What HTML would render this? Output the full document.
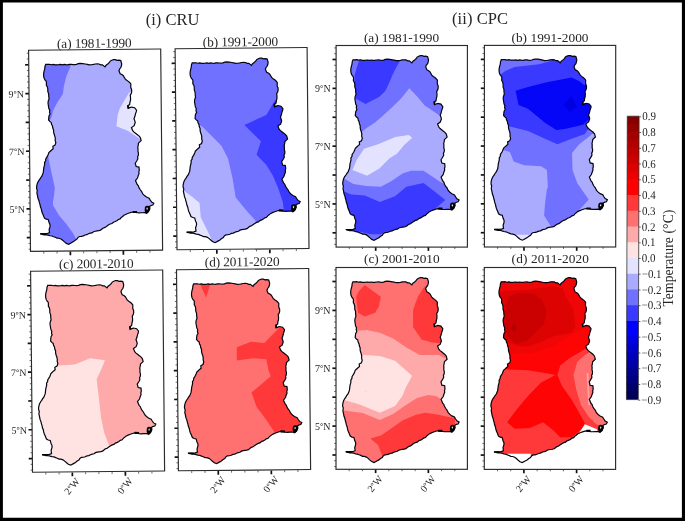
<!DOCTYPE html>
<html><head><meta charset="utf-8"><title>Decadal temperature anomaly - CRU and CPC</title>
<style>html,body{margin:0;padding:0;background:#fff}svg{display:block}text{font-family:"Liberation Serif","Times New Roman",serif;fill:#262626}</style></head><body>
<svg width="685" height="521" viewBox="0 0 685 521">
<rect x="0" y="0" width="685" height="521" fill="#fff"/>
<defs>
<path id="gh" d="M16.9 14.3 L18.7 14.3 L20.6 14.2 L22.5 14.7 L24.4 14.3 L26.2 14.8 L28.0 14.8 L29.8 14.7 L31.6 14.5 L33.4 14.9 L35.2 14.5 L36.9 14.8 L38.7 14.9 L40.5 14.5 L42.2 14.4 L44.0 14.7 L45.7 14.9 L47.5 14.6 L49.2 13.9 L51.2 13.7 L53.7 13.8 L56.1 14.3 L58.2 14.7 L60.2 15.2 L62.4 15.1 L64.3 14.8 L66.2 14.4 L68.1 14.3 L69.9 14.4 L71.5 15.3 L73.2 15.3 L75.8 17.4 L76.9 15.7 L78.5 14.5 L80.0 13.2 L81.0 11.6 L82.6 10.7 L84.3 10.1 L86.1 10.2 L87.8 10.9 L89.7 10.7 L91.5 11.2 L92.4 14.4 L92.1 16.4 L91.5 18.2 L90.3 19.6 L89.6 21.3 L90.8 24.4 L92.5 25.2 L93.9 26.4 L94.8 28.0 L95.7 29.6 L97.2 31.0 L98.8 32.1 L100.1 33.3 L101.3 34.7 L101.2 36.5 L101.2 38.4 L102.0 40.2 L102.1 42.2 L101.7 44.2 L100.6 46.0 L100.9 48.5 L100.8 51.0 L100.2 53.2 L99.9 55.4 L98.0 56.6 L98.5 59.2 L100.1 58.5 L101.7 57.9 L104.8 58.6 L106.7 61.1 L106.4 62.8 L105.7 64.5 L105.3 66.2 L104.8 68.0 L104.1 69.7 L104.8 71.5 L105.3 73.4 L104.2 76.6 L101.5 78.5 L102.7 81.6 L104.0 83.1 L105.5 84.3 L107.0 85.5 L108.8 86.9 L110.2 88.6 L111.0 91.7 L109.6 92.9 L108.3 94.2 L108.1 96.1 L107.6 98.0 L107.8 99.9 L107.7 102.0 L108.2 104.1 L108.1 106.3 L107.3 107.8 L107.6 109.7 L106.8 111.3 L105.9 112.8 L104.9 114.3 L105.8 117.6 L108.6 118.2 L108.9 121.3 L108.4 123.0 L108.6 124.8 L107.9 126.4 L107.0 129.2 L105.0 131.7 L105.8 133.6 L106.6 135.5 L107.8 136.9 L108.4 138.8 L109.5 140.7 L110.9 142.5 L112.1 145.0 L113.8 146.8 L115.8 148.3 L118.4 149.5 L119.5 151.4 L120.8 153.3 L123.0 154.5 L122.0 156.4 L120.3 156.8 L118.8 157.7 L119.0 160.3 L117.7 162.9 L115.6 164.6 L113.9 163.9 L110.7 164.0 L108.5 164.1 L106.3 163.9 L104.1 163.4 L101.9 163.2 L99.7 163.7 L97.6 164.4 L95.3 165.3 L93.2 166.3 L91.9 167.5 L90.5 168.5 L89.4 170.0 L87.6 170.5 L86.1 171.7 L84.5 172.5 L82.7 173.2 L81.2 174.5 L79.4 175.0 L77.6 176.0 L76.0 177.1 L74.4 178.3 L72.6 178.9 L71.2 180.0 L69.8 181.1 L68.0 181.6 L66.3 181.8 L64.5 182.1 L62.8 182.6 L61.3 183.7 L59.5 184.0 L57.8 184.6 L56.1 185.5 L54.3 185.8 L52.6 186.6 L50.8 187.1 L48.8 187.2 L47.2 188.3 L46.2 189.9 L44.5 190.9 L42.8 192.3 L40.8 193.4 L38.0 194.9 L35.7 194.0 L33.9 192.5 L32.1 190.8 L30.4 189.5 L28.3 188.8 L26.5 188.7 L24.8 187.8 L23.1 187.2 L21.5 186.5 L19.6 186.2 L17.7 185.6 L15.8 185.2 L13.7 185.2 L11.8 184.7 L9.9 184.3 L12.3 184.1 L14.7 184.1 L16.9 183.9 L19.1 183.1 L18.7 179.9 L19.7 176.8 L19.6 174.8 L18.7 173.0 L17.9 169.9 L15.9 169.5 L14.2 168.5 L13.0 165.4 L12.1 163.4 L11.5 161.3 L11.1 159.1 L10.3 157.1 L9.9 154.9 L9.3 152.9 L8.8 150.7 L8.0 148.7 L7.6 146.5 L6.9 143.2 L7.3 140.5 L6.6 138.7 L6.7 136.7 L7.1 134.8 L7.7 132.9 L8.6 131.2 L9.8 129.6 L10.8 127.9 L12.0 126.4 L12.7 124.6 L13.4 122.9 L13.7 120.4 L14.0 117.9 L14.5 116.1 L14.9 114.4 L14.8 112.5 L15.9 110.9 L16.0 109.1 L17.0 107.6 L17.9 106.1 L18.6 104.5 L19.2 102.8 L20.6 101.5 L22.0 100.2 L23.5 99.0 L23.2 96.5 L25.4 95.3 L26.2 92.8 L25.6 90.8 L25.7 88.6 L25.3 86.5 L24.6 84.5 L24.1 82.4 L24.1 80.2 L23.3 78.2 L23.0 76.2 L22.1 74.5 L21.8 72.6 L20.4 71.5 L19.2 70.1 L19.4 67.9 L19.7 65.9 L20.8 64.1 L20.2 62.2 L20.5 60.3 L19.6 58.5 L19.3 56.6 L18.8 53.3 L19.0 51.1 L19.9 48.9 L19.6 46.4 L19.5 43.9 L18.7 41.5 L18.7 38.9 L18.3 36.9 L17.3 35.1 L17.4 33.2 L17.3 31.4 L16.0 29.9 L15.1 28.1 L14.7 25.9 L14.7 23.7 L15.0 22.0 L15.4 20.3 L15.9 18.7 L16.1 16.4 Z"/>
<clipPath id="ghc"><use href="#gh"/></clipPath>
<g id="ticks"><path d="M-1.9 2.4H0" stroke="#5a5a5a" stroke-width="0.9"/><path d="M-1.9 8.2H0" stroke="#5a5a5a" stroke-width="0.9"/><path d="M-3.6 14.0H0" stroke="#111" stroke-width="1.7"/><path d="M-1.9 19.8H0" stroke="#5a5a5a" stroke-width="0.9"/><path d="M-1.9 25.6H0" stroke="#5a5a5a" stroke-width="0.9"/><path d="M-1.9 31.3H0" stroke="#5a5a5a" stroke-width="0.9"/><path d="M-1.9 37.1H0" stroke="#5a5a5a" stroke-width="0.9"/><path d="M-3.6 42.9H0" stroke="#111" stroke-width="1.7"/><path d="M-1.9 48.7H0" stroke="#5a5a5a" stroke-width="0.9"/><path d="M-1.9 54.5H0" stroke="#5a5a5a" stroke-width="0.9"/><path d="M-1.9 60.2H0" stroke="#5a5a5a" stroke-width="0.9"/><path d="M-1.9 66.0H0" stroke="#5a5a5a" stroke-width="0.9"/><path d="M-3.6 71.8H0" stroke="#111" stroke-width="1.7"/><path d="M-1.9 77.6H0" stroke="#5a5a5a" stroke-width="0.9"/><path d="M-1.9 83.4H0" stroke="#5a5a5a" stroke-width="0.9"/><path d="M-1.9 89.1H0" stroke="#5a5a5a" stroke-width="0.9"/><path d="M-1.9 94.9H0" stroke="#5a5a5a" stroke-width="0.9"/><path d="M-3.6 100.7H0" stroke="#111" stroke-width="1.7"/><path d="M-1.9 106.5H0" stroke="#5a5a5a" stroke-width="0.9"/><path d="M-1.9 112.3H0" stroke="#5a5a5a" stroke-width="0.9"/><path d="M-1.9 118.0H0" stroke="#5a5a5a" stroke-width="0.9"/><path d="M-1.9 123.8H0" stroke="#5a5a5a" stroke-width="0.9"/><path d="M-3.6 129.6H0" stroke="#111" stroke-width="1.7"/><path d="M-1.9 135.4H0" stroke="#5a5a5a" stroke-width="0.9"/><path d="M-1.9 141.2H0" stroke="#5a5a5a" stroke-width="0.9"/><path d="M-1.9 146.9H0" stroke="#5a5a5a" stroke-width="0.9"/><path d="M-1.9 152.7H0" stroke="#5a5a5a" stroke-width="0.9"/><path d="M-3.6 158.5H0" stroke="#111" stroke-width="1.7"/><path d="M-1.9 164.3H0" stroke="#5a5a5a" stroke-width="0.9"/><path d="M-1.9 170.1H0" stroke="#5a5a5a" stroke-width="0.9"/><path d="M-1.9 175.8H0" stroke="#5a5a5a" stroke-width="0.9"/><path d="M-1.9 181.6H0" stroke="#5a5a5a" stroke-width="0.9"/><path d="M-3.6 187.4H0" stroke="#111" stroke-width="1.7"/><path d="M-1.9 193.2H0" stroke="#5a5a5a" stroke-width="0.9"/><path d="M-1.9 199.0H0" stroke="#5a5a5a" stroke-width="0.9"/><path d="M13.2 201.7v1.9" stroke="#5a5a5a" stroke-width="0.9"/><path d="M26.4 201.7v1.9" stroke="#5a5a5a" stroke-width="0.9"/><path d="M39.6 201.7v3.8" stroke="#111" stroke-width="1.7"/><path d="M52.8 201.7v1.9" stroke="#5a5a5a" stroke-width="0.9"/><path d="M66.0 201.7v1.9" stroke="#5a5a5a" stroke-width="0.9"/><path d="M79.1 201.7v1.9" stroke="#5a5a5a" stroke-width="0.9"/><path d="M92.3 201.7v3.8" stroke="#111" stroke-width="1.7"/><path d="M105.5 201.7v1.9" stroke="#5a5a5a" stroke-width="0.9"/><path d="M118.7 201.7v1.9" stroke="#5a5a5a" stroke-width="0.9"/></g>
</defs>
<g transform="matrix(1.00605 -0.00956 0.00947 0.99698 28.60 50.30)">
<g clip-path="url(#ghc)">
<rect x="0" y="0" width="131.3" height="201.7" fill="#aaaaff"/>
<polygon points="41.9,5.1 41.8,15.8 37.3,26.4 34.7,36.5 33.7,44.1 28.0,52.6 24.1,60.1 21.6,68.6 19.6,71.6 8.6,74.0 6.3,4.8" fill="#7171ff"/>
<polygon points="14.4,100.1 18.5,106.6 20.3,116.6 22.7,128.0 24.7,138.2 24.0,145.4 22.7,153.0 23.0,156.1 28.6,165.6 35.9,174.5 42.1,183.4 45.1,189.0 47.2,198.8 -0.5,198.3 0.5,100.0" fill="#7171ff"/>
<polygon points="104.4,40.8 99.4,43.5 94.2,52.3 89.8,59.7 87.9,66.0 86.5,77.1 97.7,81.6 108.9,89.2 115.8,92.1 116.3,38.9" fill="#e3e3ff"/>
</g>
<use href="#gh" fill="none" stroke="#050510" stroke-width="1.2" stroke-linejoin="miter" stroke-miterlimit="3"/>
<polygon points="114.2,158.1 115.7,157.1 118.4,157.3 119.0,159.8 118.1,162.8 116.4,164.8 114.4,164.4 113.8,161.3" fill="#000"/>
<ellipse cx="116.3" cy="160.0" rx="0.75" ry="1.1" fill="#cfcfe6"/>
<polygon points="102.0,162.1 106.3,162.2 106.3,164.3 102.0,164.2" fill="#000"/>
<polygon points="97.5,56.0 99.2,56.3 99.2,59.1 97.7,59.3" fill="#000"/>
<polygon points="9.6,183.5 15.1,183.7 15.1,185.0 9.6,184.7" fill="#000"/>
<use href="#ticks" y="0.5"/>
<rect x="0" y="0" width="131.3" height="201.7" fill="none" stroke="#2b2b2b" stroke-width="1.15"/>
<text x="-5.0" y="47.2" font-size="10" text-anchor="end">9<tspan font-size="8.2" font-weight="bold" dy="-1.1">°</tspan><tspan dy="1.1">N</tspan></text>
<text x="-5.0" y="105.0" font-size="10" text-anchor="end">7<tspan font-size="8.2" font-weight="bold" dy="-1.1">°</tspan><tspan dy="1.1">N</tspan></text>
<text x="-5.0" y="162.8" font-size="10" text-anchor="end">5<tspan font-size="8.2" font-weight="bold" dy="-1.1">°</tspan><tspan dy="1.1">N</tspan></text>
</g>
<g transform="matrix(1.00529 -0.00955 0.00947 0.99648 175.10 48.80)">
<g clip-path="url(#ghc)">
<rect x="0" y="0" width="131.3" height="201.7" fill="#7171ff"/>
<polygon points="103.9,49.4 98.6,53.1 90.1,67.4 68.2,77.0 84.5,93.6 80.0,107.0 89.6,117.2 96.1,128.3 101.4,141.5 105.7,154.7 106.7,163.5 107.7,170.8 127.6,171.0 128.8,47.6" fill="#3939ff"/>
<polygon points="20.1,74.7 26.8,78.8 45.2,97.7 51.6,110.6 55.8,130.0 58.9,149.9 69.6,163.1 78.2,173.1 80.8,180.6 80.6,200.7 -1.0,199.9 0.2,74.5" fill="#aaaaff"/>
<polygon points="3.5,140.7 7.7,142.8 15.3,148.4 22.9,155.0 23.9,169.3 30.2,182.5 33.4,189.2 35.8,198.2 -1.0,197.9 -0.4,139.7" fill="#e3e3ff"/>
</g>
<use href="#gh" fill="none" stroke="#050510" stroke-width="1.2" stroke-linejoin="miter" stroke-miterlimit="3"/>
<polygon points="114.2,158.1 115.7,157.1 118.4,157.3 119.0,159.8 118.1,162.8 116.4,164.8 114.4,164.4 113.8,161.3" fill="#000"/>
<ellipse cx="116.3" cy="160.0" rx="0.75" ry="1.1" fill="#cfcfe6"/>
<polygon points="102.0,162.1 106.3,162.2 106.3,164.3 102.0,164.2" fill="#000"/>
<polygon points="97.5,56.0 99.2,56.3 99.2,59.1 97.7,59.3" fill="#000"/>
<polygon points="9.6,183.5 15.1,183.7 15.1,185.0 9.6,184.7" fill="#000"/>
<use href="#ticks" y="0.5"/>
<rect x="0" y="0" width="131.3" height="201.7" fill="none" stroke="#2b2b2b" stroke-width="1.15"/>
</g>
<g transform="matrix(1.00605 -0.00956 0.00947 0.99648 30.60 271.30)">
<g clip-path="url(#ghc)">
<rect x="0" y="0" width="131.3" height="201.7" fill="#ffaaaa"/>
<polygon points="18.4,95.2 24.5,95.0 42.9,94.0 58.3,87.7 73.1,89.9 69.0,99.8 64.6,108.9 66.6,127.6 68.6,147.5 71.7,162.9 76.0,174.9 78.2,182.1 78.0,200.1 0.5,199.4 1.5,95.0" fill="#ffe3e3"/>
</g>
<use href="#gh" fill="none" stroke="#050510" stroke-width="1.2" stroke-linejoin="miter" stroke-miterlimit="3"/>
<polygon points="114.2,158.1 115.7,157.1 118.4,157.3 119.0,159.8 118.1,162.8 116.4,164.8 114.4,164.4 113.8,161.3" fill="#000"/>
<ellipse cx="116.3" cy="160.0" rx="0.75" ry="1.1" fill="#cfcfe6"/>
<polygon points="102.0,162.1 106.3,162.2 106.3,164.3 102.0,164.2" fill="#000"/>
<polygon points="97.5,56.0 99.2,56.3 99.2,59.1 97.7,59.3" fill="#000"/>
<polygon points="9.6,183.5 15.1,183.7 15.1,185.0 9.6,184.7" fill="#000"/>
<use href="#ticks" y="0.5"/>
<rect x="0" y="0" width="131.3" height="201.7" fill="none" stroke="#2b2b2b" stroke-width="1.15"/>
<text x="-5.0" y="47.2" font-size="10" text-anchor="end">9<tspan font-size="8.2" font-weight="bold" dy="-1.1">°</tspan><tspan dy="1.1">N</tspan></text>
<text x="-5.0" y="105.0" font-size="10" text-anchor="end">7<tspan font-size="8.2" font-weight="bold" dy="-1.1">°</tspan><tspan dy="1.1">N</tspan></text>
<text x="-5.0" y="162.8" font-size="10" text-anchor="end">5<tspan font-size="8.2" font-weight="bold" dy="-1.1">°</tspan><tspan dy="1.1">N</tspan></text>
<text transform="translate(39.0 216.1) rotate(-50)" font-size="10" text-anchor="middle" x="0" y="3.4">2<tspan font-size="8.2" font-weight="bold" dy="-1.1">°</tspan><tspan dy="1.1">W</tspan></text>
<text transform="translate(91.7 216.1) rotate(-50)" font-size="10" text-anchor="middle" x="0" y="3.4">0<tspan font-size="8.2" font-weight="bold" dy="-1.1">°</tspan><tspan dy="1.1">W</tspan></text>
</g>
<g transform="matrix(1.00681 -0.00957 0.00947 0.99648 176.50 269.80)">
<g clip-path="url(#ghc)">
<rect x="0" y="0" width="131.3" height="201.7" fill="#ff7171"/>
<polygon points="22.0,11.5 34.5,11.6 29.1,28.2" fill="#ff3939"/>
<polygon points="104.3,56.4 99.5,61.2 86.4,74.2 73.3,73.0 59.2,78.3 59.0,91.5 75.3,89.4 88.3,90.7 90.4,101.7 92.6,107.6 73.3,123.9 78.2,138.2 87.8,151.5 96.4,164.8 98.2,171.7 127.0,172.0 128.1,56.6" fill="#ff3939"/>
</g>
<use href="#gh" fill="none" stroke="#050510" stroke-width="1.2" stroke-linejoin="miter" stroke-miterlimit="3"/>
<polygon points="114.2,158.1 115.7,157.1 118.4,157.3 119.0,159.8 118.1,162.8 116.4,164.8 114.4,164.4 113.8,161.3" fill="#000"/>
<ellipse cx="116.3" cy="160.0" rx="0.75" ry="1.1" fill="#cfcfe6"/>
<polygon points="102.0,162.1 106.3,162.2 106.3,164.3 102.0,164.2" fill="#000"/>
<polygon points="97.5,56.0 99.2,56.3 99.2,59.1 97.7,59.3" fill="#000"/>
<polygon points="9.6,183.5 15.1,183.7 15.1,185.0 9.6,184.7" fill="#000"/>
<use href="#ticks" y="0.5"/>
<rect x="0" y="0" width="131.3" height="201.7" fill="none" stroke="#2b2b2b" stroke-width="1.15"/>
<text transform="translate(39.0 216.1) rotate(-50)" font-size="10" text-anchor="middle" x="0" y="3.4">2<tspan font-size="8.2" font-weight="bold" dy="-1.1">°</tspan><tspan dy="1.1">W</tspan></text>
<text transform="translate(91.7 216.1) rotate(-50)" font-size="10" text-anchor="middle" x="0" y="3.4">0<tspan font-size="8.2" font-weight="bold" dy="-1.1">°</tspan><tspan dy="1.1">W</tspan></text>
</g>
<g transform="matrix(1.00000 0.00000 0.00000 0.99950 336.10 45.50)">
<g clip-path="url(#ghc)">
<rect x="0" y="0" width="131.3" height="201.7" fill="#7171ff"/>
<polygon points="22.9,11.5 63.8,11.5 63.8,15.5 60.1,22.0 56.5,29.3 52.8,38.1 49.2,45.4 43.3,51.2 29.4,58.5 20.0,53.4 18.5,41.0 18.5,30.0 20.7,22.0 22.9,15.5" fill="#3939ff"/>
<polygon points="73.2,42.7 81.3,51.2 88.6,60.0 97.3,65.8 103.9,70.2 115.9,73.5 115.9,141.6 104.5,136.7 98.8,132.9 87.4,125.3 75.1,125.3 66.5,128.1 55.1,135.7 44.7,141.4 30.5,140.5 17.2,138.6 9.2,133.8 1.9,130.6 1.9,90.5 20.9,89.5 25.8,86.4 30.2,82.7 38.9,77.0 46.2,70.9 55.0,62.9 65.2,52.7" fill="#aaaaff"/>
<polygon points="72.5,89.6 76.2,92.2 68.1,99.5 60.8,108.4 53.5,112.8 43.3,123.0 30.9,130.3 16.3,124.5 20.7,114.2 28.0,103.3 41.9,98.8 59.4,91.5" fill="#e3e3ff"/>
<polygon points="1.9,143.6 8.6,146.2 15.3,149.0 28.6,150.0 43.7,156.6 58.9,150.9 70.3,141.4 87.4,137.6 98.8,146.2 109.2,154.7 102.6,160.4 96.9,165.1 93.9,170.6 93.9,200.6 1.9,200.6" fill="#3939ff"/>
<polygon points="22.9,186.0 34.3,188.9 44.7,188.9 49.4,186.0 53.9,200.6 18.9,200.6" fill="#7171ff"/>
</g>
<use href="#gh" fill="none" stroke="#050510" stroke-width="1.2" stroke-linejoin="miter" stroke-miterlimit="3"/>
<polygon points="114.2,158.1 115.7,157.1 118.4,157.3 119.0,159.8 118.1,162.8 116.4,164.8 114.4,164.4 113.8,161.3" fill="#000"/>
<ellipse cx="116.3" cy="160.0" rx="0.75" ry="1.1" fill="#cfcfe6"/>
<polygon points="102.0,162.1 106.3,162.2 106.3,164.3 102.0,164.2" fill="#000"/>
<polygon points="97.5,56.0 99.2,56.3 99.2,59.1 97.7,59.3" fill="#000"/>
<polygon points="9.6,183.5 15.1,183.7 15.1,185.0 9.6,184.7" fill="#000"/>
<use href="#ticks"/>
<rect x="0" y="0" width="131.3" height="201.7" fill="none" stroke="#2b2b2b" stroke-width="1.15"/>
<text x="-5.5" y="46.6" font-size="10" text-anchor="end">9<tspan font-size="8.2" font-weight="bold" dy="-1.1">°</tspan><tspan dy="1.1">N</tspan></text>
<text x="-5.5" y="104.4" font-size="10" text-anchor="end">7<tspan font-size="8.2" font-weight="bold" dy="-1.1">°</tspan><tspan dy="1.1">N</tspan></text>
<text x="-5.5" y="162.2" font-size="10" text-anchor="end">5<tspan font-size="8.2" font-weight="bold" dy="-1.1">°</tspan><tspan dy="1.1">N</tspan></text>
</g>
<g transform="matrix(1.00000 0.00000 0.00000 0.99950 484.40 45.40)">
<g clip-path="url(#ghc)">
<rect x="0" y="0" width="131.3" height="201.7" fill="#3939ff"/>
<polygon points="12.6,11.6 68.2,11.6 68.2,15.0 54.9,18.8 30.3,21.7 20.8,25.5 16.0,29.3 12.6,30.6" fill="#7171ff"/>
<polygon points="31.2,45.4 43.6,41.6 62.5,36.9 87.2,32.1 94.8,35.9 99.9,39.7 107.6,38.6 112.6,72.6 104.3,74.1 98.6,79.4 81.5,83.5 72.0,84.6 60.6,77.4 43.6,63.4 34.1,59.6" fill="#0505f8"/>
<polygon points="86.8,50.8 92.6,61.1 85.4,66.4 79.1,59.4" fill="#0000e0"/>
<polygon points="15.6,78.6 24.6,81.0 43.6,85.7 60.6,93.3 73.0,99.0 87.2,93.3 100.5,88.6 104.3,82.9 111.6,79.6 127.6,79.6 127.6,200.7 1.6,200.7 1.6,78.6" fill="#7171ff"/>
<polygon points="107.6,88.6 103.3,92.4 94.8,99.0 87.6,107.7 88.1,124.7 92.9,138.0 104.3,154.1 98.6,160.7 92.9,166.4 89.6,172.7 127.6,172.7 127.6,86.6" fill="#aaaaff"/>
<polygon points="15.6,103.7 19.8,105.0 25.5,106.7 29.3,116.2 39.8,120.0 56.8,120.9 62.5,124.7 63.5,141.8 62.5,143.7 60.6,158.9 59.7,170.2 66.3,180.7 68.6,186.7 68.6,200.7 1.6,200.7 1.6,103.7" fill="#aaaaff"/>
<polygon points="31.6,189.4 46.6,189.4 46.6,200.7 31.6,200.7" fill="#e3e3ff"/>
</g>
<use href="#gh" fill="none" stroke="#050510" stroke-width="1.2" stroke-linejoin="miter" stroke-miterlimit="3"/>
<polygon points="114.2,158.1 115.7,157.1 118.4,157.3 119.0,159.8 118.1,162.8 116.4,164.8 114.4,164.4 113.8,161.3" fill="#000"/>
<ellipse cx="116.3" cy="160.0" rx="0.75" ry="1.1" fill="#cfcfe6"/>
<polygon points="102.0,162.1 106.3,162.2 106.3,164.3 102.0,164.2" fill="#000"/>
<polygon points="97.5,56.0 99.2,56.3 99.2,59.1 97.7,59.3" fill="#000"/>
<polygon points="9.6,183.5 15.1,183.7 15.1,185.0 9.6,184.7" fill="#000"/>
<use href="#ticks"/>
<rect x="0" y="0" width="131.3" height="201.7" fill="none" stroke="#2b2b2b" stroke-width="1.15"/>
</g>
<g transform="matrix(1.00076 0.00000 0.00000 1.00050 336.00 267.50)">
<g clip-path="url(#ghc)">
<rect x="0" y="0" width="131.3" height="201.7" fill="#ff7171"/>
<polygon points="28.7,17.4 44.8,29.2 42.9,38.7 39.1,45.3 28.7,49.1 22.0,45.3 20.1,29.2 23.0,23.5" fill="#ff3939"/>
<polygon points="90.9,17.5 87.4,20.6 81.7,29.2 77.0,42.5 77.0,59.5 85.5,71.9 95.0,74.7 102.6,75.7 113.9,75.5 113.9,17.5" fill="#ff3939"/>
<polygon points="14.0,63.5 21.1,63.3 30.6,62.4 43.8,65.2 57.1,70.9 70.3,79.9 83.6,87.5 102.6,87.5 110.2,91.3 115.9,92.5 115.9,134.4 106.4,132.4 99.9,128.4 91.9,127.4 80.9,130.4 68.4,138.4 57.0,146.4 43.8,152.4 26.8,145.4 7.8,142.9 2.0,141.4 2.0,63.5" fill="#ffaaaa"/>
<polygon points="26.8,87.5 43.8,88.5 59.0,93.2 76.0,108.3 69.4,120.6 66.5,128.1 59.0,138.5 43.8,145.2 23.0,136.6 8.7,132.8 2.0,131.4 2.0,102.4 20.0,98.5 23.0,94.5" fill="#ffe3e3"/>
<polygon points="28.0,123.8 29.5,123.0 31.2,123.6 29.6,124.6" fill="#dcdcff"/>
<polygon points="34.4,170.8 44.8,167.9 53.3,162.2 66.5,152.8 79.8,147.1 89.3,145.2 102.6,147.1 110.2,149.0 118.9,150.4 118.9,192.4 48.0,192.4 45.7,186.9 42.0,177.4" fill="#ff3939"/>
</g>
<use href="#gh" fill="none" stroke="#050510" stroke-width="1.2" stroke-linejoin="miter" stroke-miterlimit="3"/>
<polygon points="114.2,158.1 115.7,157.1 118.4,157.3 119.0,159.8 118.1,162.8 116.4,164.8 114.4,164.4 113.8,161.3" fill="#000"/>
<ellipse cx="116.3" cy="160.0" rx="0.75" ry="1.1" fill="#cfcfe6"/>
<polygon points="102.0,162.1 106.3,162.2 106.3,164.3 102.0,164.2" fill="#000"/>
<polygon points="97.5,56.0 99.2,56.3 99.2,59.1 97.7,59.3" fill="#000"/>
<polygon points="9.6,183.5 15.1,183.7 15.1,185.0 9.6,184.7" fill="#000"/>
<use href="#ticks"/>
<rect x="0" y="0" width="131.3" height="201.7" fill="none" stroke="#2b2b2b" stroke-width="1.15"/>
<text x="-5.5" y="46.6" font-size="10" text-anchor="end">9<tspan font-size="8.2" font-weight="bold" dy="-1.1">°</tspan><tspan dy="1.1">N</tspan></text>
<text x="-5.5" y="104.4" font-size="10" text-anchor="end">7<tspan font-size="8.2" font-weight="bold" dy="-1.1">°</tspan><tspan dy="1.1">N</tspan></text>
<text x="-5.5" y="162.2" font-size="10" text-anchor="end">5<tspan font-size="8.2" font-weight="bold" dy="-1.1">°</tspan><tspan dy="1.1">N</tspan></text>
<text transform="translate(39.0 216.1) rotate(-50)" font-size="10" text-anchor="middle" x="0" y="3.4">2<tspan font-size="8.2" font-weight="bold" dy="-1.1">°</tspan><tspan dy="1.1">W</tspan></text>
<text transform="translate(91.7 216.1) rotate(-50)" font-size="10" text-anchor="middle" x="0" y="3.4">0<tspan font-size="8.2" font-weight="bold" dy="-1.1">°</tspan><tspan dy="1.1">W</tspan></text>
</g>
<g transform="matrix(1.00000 0.00000 0.00000 1.00099 484.30 267.50)">
<g clip-path="url(#ghc)">
<rect x="0" y="0" width="131.3" height="201.7" fill="#ff0404"/>
<polygon points="1.7,0.5 131.7,0.5 131.7,54.4 104.1,58.2 98.3,61.2 86.6,67.0 79.3,72.1 69.1,78.7 47.2,85.2 25.7,86.7 1.7,87.4" fill="#f00606"/>
<polygon points="13.7,25.5 19.7,23.5 43.7,22.5 68.3,18.7 77.8,20.6 81.6,29.2 89.2,42.5 91.1,59.4 87.3,65.1 68.3,68.9 55.7,74.9 43.7,78.9 34.2,78.4 24.7,75.1 15.7,71.4" fill="#de0303"/>
<polygon points="24.7,29.2 34.2,25.4 49.3,26.3 57.9,33.0 62.6,44.3 59.8,55.6 51.2,65.1 43.7,72.7 32.3,76.5 22.8,68.9 19.9,51.8 20.9,38.7" fill="#cb0000"/>
<polygon points="29.4,57.0 32.5,60.4 29.4,63.8 26.3,60.4" fill="#ae0000"/>
<polygon points="15.7,101.4 21.8,101.7 43.7,102.6 60.7,105.4 71.2,107.4 56.9,114.9 45.5,126.3 34.2,139.5 28.5,147.1 22.8,154.6 30.4,161.2 45.5,160.3 58.8,154.6 68.3,162.1 75.9,169.7 87.3,169.7 98.7,160.3 100.6,155.5 94.9,145.2 87.3,131.9 77.8,118.7 73.1,107.4 75.9,97.9 85.4,90.3 100.6,81.7 107.7,78.4 130.7,78.4 130.7,200.3 1.7,200.3 1.7,101.4" fill="#ff3939"/>
<polygon points="105.7,84.4 100.6,87.4 93.0,94.1 89.2,107.4 92.0,122.5 96.8,137.6 104.4,149.0 112.0,156.5 119.7,160.3 128.7,160.3 128.7,84.4" fill="#ff7171"/>
<polygon points="102.4,105.4 104.1,105.4 105.7,137.7 103.9,137.7" fill="#ffa2a2"/>
<polygon points="15.7,186.0 46.5,186.0 46.7,200.3 15.7,200.3" fill="#ffffff"/>
<polygon points="100.6,156.5 112.7,161.6 114.7,168.3 92.7,173.3 93.0,167.8" fill="#ffffff"/>
</g>
<use href="#gh" fill="none" stroke="#050510" stroke-width="1.2" stroke-linejoin="miter" stroke-miterlimit="3"/>
<polygon points="114.2,158.1 115.7,157.1 118.4,157.3 119.0,159.8 118.1,162.8 116.4,164.8 114.4,164.4 113.8,161.3" fill="#000"/>
<ellipse cx="116.3" cy="160.0" rx="0.75" ry="1.1" fill="#cfcfe6"/>
<polygon points="102.0,162.1 106.3,162.2 106.3,164.3 102.0,164.2" fill="#000"/>
<polygon points="97.5,56.0 99.2,56.3 99.2,59.1 97.7,59.3" fill="#000"/>
<polygon points="9.6,183.5 15.1,183.7 15.1,185.0 9.6,184.7" fill="#000"/>
<use href="#ticks"/>
<rect x="0" y="0" width="131.3" height="201.7" fill="none" stroke="#2b2b2b" stroke-width="1.15"/>
<text transform="translate(39.0 216.1) rotate(-50)" font-size="10" text-anchor="middle" x="0" y="3.4">2<tspan font-size="8.2" font-weight="bold" dy="-1.1">°</tspan><tspan dy="1.1">W</tspan></text>
<text transform="translate(91.7 216.1) rotate(-50)" font-size="10" text-anchor="middle" x="0" y="3.4">0<tspan font-size="8.2" font-weight="bold" dy="-1.1">°</tspan><tspan dy="1.1">W</tspan></text>
</g>
<text x="145.8" y="25.4" font-size="16.5" textLength="53.5" lengthAdjust="spacing">(i) CRU</text>
<text x="452.0" y="24.3" font-size="16.5" textLength="56.0" lengthAdjust="spacing">(ii) CPC</text>
<text x="57.0" y="47.6" font-size="13.3" textLength="74.7" lengthAdjust="spacing" transform="rotate(-0.50 94.3 47.6)">(a) 1981-1990</text>
<text x="202.8" y="46.2" font-size="13.3" textLength="75.3" lengthAdjust="spacing" transform="rotate(-0.50 240.5 46.2)">(b) 1991-2000</text>
<text x="58.9" y="268.2" font-size="13.3" textLength="74.7" lengthAdjust="spacing" transform="rotate(-0.50 96.2 268.2)">(c) 2001-2010</text>
<text x="204.8" y="266.2" font-size="13.3" textLength="74.8" lengthAdjust="spacing" transform="rotate(-0.50 242.2 266.2)">(d) 2011-2020</text>
<text x="363.9" y="41.9" font-size="13.3" textLength="75.2" lengthAdjust="spacing">(a) 1981-1990</text>
<text x="511.4" y="41.8" font-size="13.3" textLength="77.1" lengthAdjust="spacing">(b) 1991-2000</text>
<text x="364.0" y="263.4" font-size="13.3" textLength="75.6" lengthAdjust="spacing">(c) 2001-2010</text>
<text x="511.6" y="263.4" font-size="13.3" textLength="77.3" lengthAdjust="spacing">(d) 2011-2020</text>
<g transform="matrix(1 0 -0.003 1 0.35 0)">
<rect x="627.3" y="116.20" width="11.8" height="8.87" fill="rgb(135,0,0)"/>
<rect x="627.3" y="124.07" width="11.8" height="8.87" fill="rgb(149,0,0)"/>
<rect x="627.3" y="131.94" width="11.8" height="8.87" fill="rgb(163,0,0)"/>
<rect x="627.3" y="139.82" width="11.8" height="8.87" fill="rgb(177,0,0)"/>
<rect x="627.3" y="147.69" width="11.8" height="8.87" fill="rgb(191,0,0)"/>
<rect x="627.3" y="155.56" width="11.8" height="8.87" fill="rgb(205,0,0)"/>
<rect x="627.3" y="163.43" width="11.8" height="8.87" fill="rgb(220,0,0)"/>
<rect x="627.3" y="171.31" width="11.8" height="8.87" fill="rgb(234,0,0)"/>
<rect x="627.3" y="179.18" width="11.8" height="8.87" fill="rgb(255,0,0)"/>
<rect x="627.3" y="187.05" width="11.8" height="8.87" fill="rgb(255,0,0)"/>
<rect x="627.3" y="194.92" width="11.8" height="8.87" fill="rgb(255,57,57)"/>
<rect x="627.3" y="202.79" width="11.8" height="8.87" fill="rgb(255,57,57)"/>
<rect x="627.3" y="210.67" width="11.8" height="8.87" fill="rgb(255,113,113)"/>
<rect x="627.3" y="218.54" width="11.8" height="8.87" fill="rgb(255,113,113)"/>
<rect x="627.3" y="226.41" width="11.8" height="8.87" fill="rgb(255,170,170)"/>
<rect x="627.3" y="234.28" width="11.8" height="8.87" fill="rgb(255,170,170)"/>
<rect x="627.3" y="242.16" width="11.8" height="8.87" fill="rgb(255,227,227)"/>
<rect x="627.3" y="250.03" width="11.8" height="8.87" fill="rgb(255,227,227)"/>
<rect x="627.3" y="257.90" width="11.8" height="8.87" fill="rgb(227,227,255)"/>
<rect x="627.3" y="265.77" width="11.8" height="8.87" fill="rgb(227,227,255)"/>
<rect x="627.3" y="273.64" width="11.8" height="8.87" fill="rgb(170,170,255)"/>
<rect x="627.3" y="281.52" width="11.8" height="8.87" fill="rgb(170,170,255)"/>
<rect x="627.3" y="289.39" width="11.8" height="8.87" fill="rgb(113,113,255)"/>
<rect x="627.3" y="297.26" width="11.8" height="8.87" fill="rgb(113,113,255)"/>
<rect x="627.3" y="305.13" width="11.8" height="8.87" fill="rgb(57,57,255)"/>
<rect x="627.3" y="313.01" width="11.8" height="8.87" fill="rgb(57,57,255)"/>
<rect x="627.3" y="320.88" width="11.8" height="8.87" fill="rgb(0,0,255)"/>
<rect x="627.3" y="328.75" width="11.8" height="8.87" fill="rgb(0,0,255)"/>
<rect x="627.3" y="336.62" width="11.8" height="8.87" fill="rgb(0,0,225)"/>
<rect x="627.3" y="344.49" width="11.8" height="8.87" fill="rgb(0,0,205)"/>
<rect x="627.3" y="352.37" width="11.8" height="8.87" fill="rgb(0,0,186)"/>
<rect x="627.3" y="360.24" width="11.8" height="8.87" fill="rgb(0,0,166)"/>
<rect x="627.3" y="368.11" width="11.8" height="8.87" fill="rgb(0,0,146)"/>
<rect x="627.3" y="375.98" width="11.8" height="8.87" fill="rgb(0,0,126)"/>
<rect x="627.3" y="383.86" width="11.8" height="8.87" fill="rgb(0,0,106)"/>
<rect x="627.3" y="391.73" width="11.8" height="7.87" fill="rgb(0,0,86)"/>
<rect x="627.3" y="116.2" width="11.8" height="283.4" fill="none" stroke="#2a2a2a" stroke-opacity="0.85" stroke-width="0.9"/>
<path d="M639.1 116.8h2" stroke="#444" stroke-width="0.8"/>
<text x="642.2" y="120.5" font-size="11.9" textLength="13.7" lengthAdjust="spacingAndGlyphs">0.9</text>
<path d="M639.1 132.5h2" stroke="#444" stroke-width="0.8"/>
<text x="642.2" y="136.2" font-size="11.9" textLength="13.7" lengthAdjust="spacingAndGlyphs">0.8</text>
<path d="M639.1 148.3h2" stroke="#444" stroke-width="0.8"/>
<text x="642.2" y="152.0" font-size="11.9" textLength="13.7" lengthAdjust="spacingAndGlyphs">0.7</text>
<path d="M639.1 164.0h2" stroke="#444" stroke-width="0.8"/>
<text x="642.2" y="167.7" font-size="11.9" textLength="13.7" lengthAdjust="spacingAndGlyphs">0.6</text>
<path d="M639.1 179.8h2" stroke="#444" stroke-width="0.8"/>
<text x="642.2" y="183.5" font-size="11.9" textLength="13.7" lengthAdjust="spacingAndGlyphs">0.5</text>
<path d="M639.1 195.5h2" stroke="#444" stroke-width="0.8"/>
<text x="642.2" y="199.2" font-size="11.9" textLength="13.7" lengthAdjust="spacingAndGlyphs">0.4</text>
<path d="M639.1 211.3h2" stroke="#444" stroke-width="0.8"/>
<text x="642.2" y="215.0" font-size="11.9" textLength="13.7" lengthAdjust="spacingAndGlyphs">0.3</text>
<path d="M639.1 227.0h2" stroke="#444" stroke-width="0.8"/>
<text x="642.2" y="230.7" font-size="11.9" textLength="13.7" lengthAdjust="spacingAndGlyphs">0.2</text>
<path d="M639.1 242.8h2" stroke="#444" stroke-width="0.8"/>
<text x="642.2" y="246.5" font-size="11.9" textLength="13.7" lengthAdjust="spacingAndGlyphs">0.1</text>
<path d="M639.1 258.5h2" stroke="#444" stroke-width="0.8"/>
<text x="642.2" y="262.2" font-size="11.9" textLength="13.7" lengthAdjust="spacingAndGlyphs">0.0</text>
<path d="M639.1 274.2h2" stroke="#444" stroke-width="0.8"/>
<text x="642.2" y="277.9" font-size="11.9" textLength="19.9" lengthAdjust="spacingAndGlyphs">−0.1</text>
<path d="M639.1 290.0h2" stroke="#444" stroke-width="0.8"/>
<text x="642.2" y="293.7" font-size="11.9" textLength="19.9" lengthAdjust="spacingAndGlyphs">−0.2</text>
<path d="M639.1 305.7h2" stroke="#444" stroke-width="0.8"/>
<text x="642.2" y="309.4" font-size="11.9" textLength="19.9" lengthAdjust="spacingAndGlyphs">−0.3</text>
<path d="M639.1 321.5h2" stroke="#444" stroke-width="0.8"/>
<text x="642.2" y="325.2" font-size="11.9" textLength="19.9" lengthAdjust="spacingAndGlyphs">−0.4</text>
<path d="M639.1 337.2h2" stroke="#444" stroke-width="0.8"/>
<text x="642.2" y="340.9" font-size="11.9" textLength="19.9" lengthAdjust="spacingAndGlyphs">−0.5</text>
<path d="M639.1 353.0h2" stroke="#444" stroke-width="0.8"/>
<text x="642.2" y="356.7" font-size="11.9" textLength="19.9" lengthAdjust="spacingAndGlyphs">−0.6</text>
<path d="M639.1 368.7h2" stroke="#444" stroke-width="0.8"/>
<text x="642.2" y="372.4" font-size="11.9" textLength="19.9" lengthAdjust="spacingAndGlyphs">−0.7</text>
<path d="M639.1 384.5h2" stroke="#444" stroke-width="0.8"/>
<text x="642.2" y="388.2" font-size="11.9" textLength="19.9" lengthAdjust="spacingAndGlyphs">−0.8</text>
<path d="M639.1 400.2h2" stroke="#444" stroke-width="0.8"/>
<text x="642.2" y="403.9" font-size="11.9" textLength="19.9" lengthAdjust="spacingAndGlyphs">−0.9</text>
</g>
<text transform="translate(672.6 306.6) rotate(-90)" font-size="13.7" textLength="97" lengthAdjust="spacing">Temperature (°C)</text>
<path d="M0 0H685V521H0Z M2.9 2.4V517.8H681.9V2.4Z" fill="#000" fill-rule="evenodd"/>
</svg></body></html>
